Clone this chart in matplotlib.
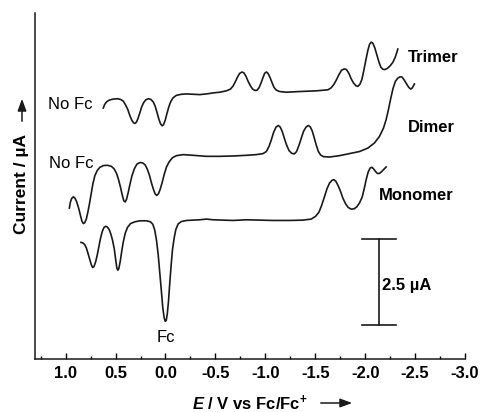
import matplotlib
matplotlib.use('Agg')
import matplotlib.pyplot as plt
from matplotlib.patches import FancyArrowPatch

plt.rcParams['font.family'] = ['Liberation Sans', 'DejaVu Sans']
plt.rcParams['axes.unicode_minus'] = False
plt.rcParams['mathtext.fontset'] = 'custom'
plt.rcParams['mathtext.it'] = 'Liberation Sans:italic:bold'
plt.rcParams['mathtext.rm'] = 'Liberation Sans:bold'
plt.rcParams['mathtext.bf'] = 'Liberation Sans:bold'

# potential (V vs Fc/Fc+) and current (uA)
trimer_E = [0.623, 0.610, 0.590, 0.563, 0.523, 0.483, 0.450, 0.423, 0.400, 0.377,
            0.357, 0.337, 0.320, 0.307, 0.293, 0.277, 0.260, 0.240, 0.220, 0.197,
            0.170, 0.147, 0.123, 0.103, 0.083, 0.067, 0.050, 0.033, 0.020, 0.003,
            -0.013, -0.033, -0.053, -0.077, -0.110, -0.160, -0.210, -0.277, -0.343, -0.410,
            -0.477, -0.543, -0.610, -0.650, -0.677, -0.700, -0.723, -0.743, -0.767, -0.787,
            -0.807, -0.827, -0.850, -0.873, -0.897, -0.917, -0.937, -0.957, -0.977, -0.993,
            -1.010, -1.027, -1.047, -1.067, -1.087, -1.110, -1.143, -1.210, -1.343, -1.510,
            -1.627, -1.660, -1.687, -1.710, -1.737, -1.763, -1.790, -1.813, -1.837, -1.860,
            -1.883, -1.907, -1.927, -1.947, -1.967, -1.987, -2.007, -2.027, -2.043, -2.060,
            -2.077, -2.097, -2.117, -2.137, -2.157, -2.177, -2.197, -2.220, -2.250, -2.277,
            -2.300, -2.317, -2.327]
trimer_I = [7.32, 7.42, 7.50, 7.55, 7.58, 7.59, 7.57, 7.52, 7.41, 7.27,
            7.10, 6.96, 6.89, 6.87, 6.90, 7.00, 7.15, 7.34, 7.47, 7.56,
            7.59, 7.57, 7.50, 7.37, 7.17, 7.00, 6.86, 6.80, 6.83, 6.96,
            7.14, 7.35, 7.51, 7.62, 7.69, 7.72, 7.73, 7.72, 7.71, 7.73,
            7.76, 7.78, 7.82, 7.87, 7.96, 8.09, 8.23, 8.33, 8.37, 8.34,
            8.24, 8.10, 7.97, 7.87, 7.83, 7.84, 7.91, 8.05, 8.21, 8.33,
            8.37, 8.33, 8.21, 8.06, 7.92, 7.84, 7.80, 7.78, 7.80, 7.82,
            7.85, 7.91, 8.01, 8.13, 8.29, 8.42, 8.46, 8.44, 8.33, 8.17,
            8.05, 7.97, 7.95, 8.01, 8.15, 8.42, 8.72, 9.00, 9.17, 9.24,
            9.21, 9.07, 8.87, 8.67, 8.51, 8.45, 8.44, 8.47, 8.55, 8.65,
            8.79, 8.94, 9.04]

dimer_E = [0.963, 0.953, 0.940, 0.923, 0.907, 0.890, 0.870, 0.853, 0.837, 0.823,
           0.810, 0.793, 0.777, 0.760, 0.743, 0.727, 0.707, 0.683, 0.657, 0.623,
           0.583, 0.543, 0.513, 0.490, 0.470, 0.450, 0.433, 0.417, 0.403, 0.390,
           0.373, 0.357, 0.337, 0.313, 0.287, 0.257, 0.230, 0.203, 0.180, 0.160,
           0.140, 0.120, 0.103, 0.087, 0.070, 0.053, 0.033, 0.013, -0.010, -0.037,
           -0.070, -0.110, -0.177, -0.277, -0.410, -0.543, -0.677, -0.810, -0.910, -0.977,
           -1.010, -1.037, -1.060, -1.083, -1.107, -1.130, -1.150, -1.170, -1.190, -1.213,
           -1.237, -1.263, -1.290, -1.313, -1.337, -1.360, -1.383, -1.407, -1.430, -1.450,
           -1.470, -1.490, -1.510, -1.530, -1.553, -1.583, -1.643, -1.743, -1.843, -1.943,
           -2.027, -2.093, -2.143, -2.183, -2.210, -2.233, -2.257, -2.280, -2.303, -2.327,
           -2.350, -2.370, -2.390, -2.413, -2.437, -2.457, -2.473, -2.493]
dimer_I = [4.40, 4.57, 4.68, 4.73, 4.69, 4.59, 4.40, 4.20, 4.02, 3.95,
           3.97, 4.08, 4.29, 4.55, 4.84, 5.11, 5.35, 5.50, 5.59, 5.64,
           5.65, 5.62, 5.54, 5.41, 5.23, 5.00, 4.78, 4.61, 4.58, 4.66,
           4.86, 5.08, 5.33, 5.54, 5.68, 5.73, 5.72, 5.66, 5.52, 5.35,
           5.13, 4.94, 4.81, 4.77, 4.82, 4.95, 5.15, 5.38, 5.60, 5.75,
           5.87, 5.93, 5.96, 5.94, 5.91, 5.91, 5.92, 5.94, 5.96, 5.99,
           6.05, 6.20, 6.39, 6.61, 6.76, 6.81, 6.76, 6.63, 6.44, 6.24,
           6.08, 6.00, 5.98, 6.05, 6.23, 6.44, 6.64, 6.76, 6.81, 6.77,
           6.65, 6.45, 6.24, 6.06, 5.95, 5.90, 5.89, 5.93, 5.99, 6.05,
           6.15, 6.30, 6.49, 6.73, 6.98, 7.27, 7.61, 7.90, 8.10, 8.19,
           8.23, 8.22, 8.14, 8.03, 7.92, 7.87, 7.91, 8.02]

monomer_E = [0.847, 0.830, 0.810, 0.793, 0.777, 0.760, 0.743, 0.730, 0.717, 0.700,
             0.683, 0.667, 0.650, 0.633, 0.617, 0.600, 0.583, 0.563, 0.547, 0.530,
             0.513, 0.500, 0.487, 0.477, 0.467, 0.453, 0.440, 0.423, 0.403, 0.380,
             0.350, 0.307, 0.257, 0.190, 0.150, 0.127, 0.107, 0.090, 0.073, 0.057,
             0.040, 0.027, 0.013, 0.003, -0.007, -0.017, -0.030, -0.043, -0.057, -0.070,
             -0.087, -0.103, -0.127, -0.160, -0.210, -0.277, -0.343, -0.410, -0.477, -0.577,
             -0.677, -0.810, -0.943, -1.077, -1.243, -1.377, -1.460, -1.503, -1.537, -1.563,
             -1.590, -1.617, -1.643, -1.667, -1.687, -1.707, -1.730, -1.753, -1.777, -1.803,
             -1.830, -1.860, -1.890, -1.917, -1.943, -1.970, -1.990, -2.010, -2.030, -2.050,
             -2.067, -2.083, -2.103, -2.123, -2.143, -2.167, -2.193, -2.210]
monomer_I = [3.40, 3.39, 3.34, 3.24, 3.09, 2.92, 2.75, 2.67, 2.69, 2.83,
             3.04, 3.28, 3.53, 3.72, 3.83, 3.87, 3.85, 3.77, 3.64, 3.46,
             3.21, 2.92, 2.65, 2.59, 2.64, 2.85, 3.11, 3.41, 3.67, 3.84,
             3.95, 4.00, 4.03, 4.03, 4.00, 3.93, 3.75, 3.46, 3.04, 2.51,
             1.94, 1.49, 1.20, 1.10, 1.12, 1.29, 1.68, 2.22, 2.75, 3.19,
             3.53, 3.77, 3.94, 4.01, 4.04, 4.05, 4.06, 4.08, 4.06, 4.05,
             4.04, 4.06, 4.05, 4.04, 4.04, 4.05, 4.08, 4.16, 4.28, 4.47,
             4.71, 4.96, 5.13, 5.21, 5.23, 5.18, 5.05, 4.89, 4.69, 4.53,
             4.42, 4.37, 4.38, 4.44, 4.55, 4.72, 4.96, 5.23, 5.45, 5.57,
             5.59, 5.55, 5.47, 5.41, 5.41, 5.47, 5.55, 5.60]

xticks = [1.0, 0.5, 0.0, -0.5, -1.0, -1.5, -2.0, -2.5, -3.0]
scale_uA = 2.5

fig = plt.figure(figsize=(4.81, 4.12), dpi=100)
ax = fig.add_axes([35 / 481, 53 / 412, 430 / 481, 346 / 412])

for E, I in [(trimer_E, trimer_I), (dimer_E, dimer_I), (monomer_E, monomer_I)]:
    ax.plot(E, I, color='#1a1a1a', lw=1.2, solid_joinstyle='round')

ax.set_xlim(1.307, -3.0)
ax.set_ylim(0, 10.09)
ax.set_xticks(xticks)
ax.set_xticklabels(['%.1f' % t for t in xticks], fontweight='bold', fontsize=12)
ax.set_xticks([1.25, 0.75, 0.25, -0.25, -0.75, -1.25, -1.75, -2.25, -2.75], minor=True)
ax.set_yticks([])
ax.tick_params(axis='x', which='major', direction='in', length=4, width=1, pad=5)
ax.tick_params(axis='x', which='minor', direction='in', length=2.5, width=1)
for s in ['top', 'right']:
    ax.spines[s].set_visible(False)
for s in ['left', 'bottom']:
    ax.spines[s].set_linewidth(1.1)
    ax.spines[s].set_color('#1a1a1a')

# trace labels
ax.text(0.727, 7.41, 'No Fc', ha='right', va='center', fontsize=12)
ax.text(0.717, 5.71, 'No Fc', ha='right', va='center', fontsize=12)
ax.text(0.0, 0.64, 'Fc', ha='center', va='center', fontsize=12)
ax.text(-2.423, 8.78, 'Trimer', ha='left', va='center', fontsize=12, fontweight='bold')
ax.text(-2.423, 6.76, 'Dimer', ha='left', va='center', fontsize=12, fontweight='bold')
ax.text(-2.133, 4.78, 'Monomer', ha='left', va='center', fontsize=12, fontweight='bold')

# scale bar
y0 = 0.99
ax.plot([-2.136, -2.136], [y0, y0 + scale_uA], color='#1a1a1a', lw=1.2)
ax.plot([-1.97, -2.31], [y0, y0], color='#1a1a1a', lw=1.2)
ax.plot([-1.97, -2.31], [y0 + scale_uA, y0 + scale_uA], color='#1a1a1a', lw=1.2)
ax.text(-2.17, y0 + scale_uA / 2 - 0.1, '%.1f µA' % scale_uA, ha='left', va='center',
        fontsize=12, fontweight='bold')

# axis labels with arrows
fig.text(192 / 481, 9 / 412, r'$\mathit{E}$ / V vs Fc/Fc$^{+}$', ha='left', va='center',
         fontsize=12, fontweight='bold')
fig.add_artist(FancyArrowPatch((318 / 481, 9 / 412), (355 / 481, 9 / 412),
                               transform=fig.transFigure,
                               arrowstyle='-|>,head_length=0.6,head_width=0.22',
                               mutation_scale=12, color='#1a1a1a', lw=1.1))
fig.text(22 / 481, 228 / 412, 'Current / µA', rotation=90, ha='center', va='center',
         fontsize=12.5, fontweight='bold')
fig.add_artist(FancyArrowPatch((22 / 481, 288 / 412), (22 / 481, 316 / 412),
                               transform=fig.transFigure,
                               arrowstyle='-|>,head_length=0.6,head_width=0.22',
                               mutation_scale=12, color='#1a1a1a', lw=1.1))

fig.savefig('out.png', dpi=100)
